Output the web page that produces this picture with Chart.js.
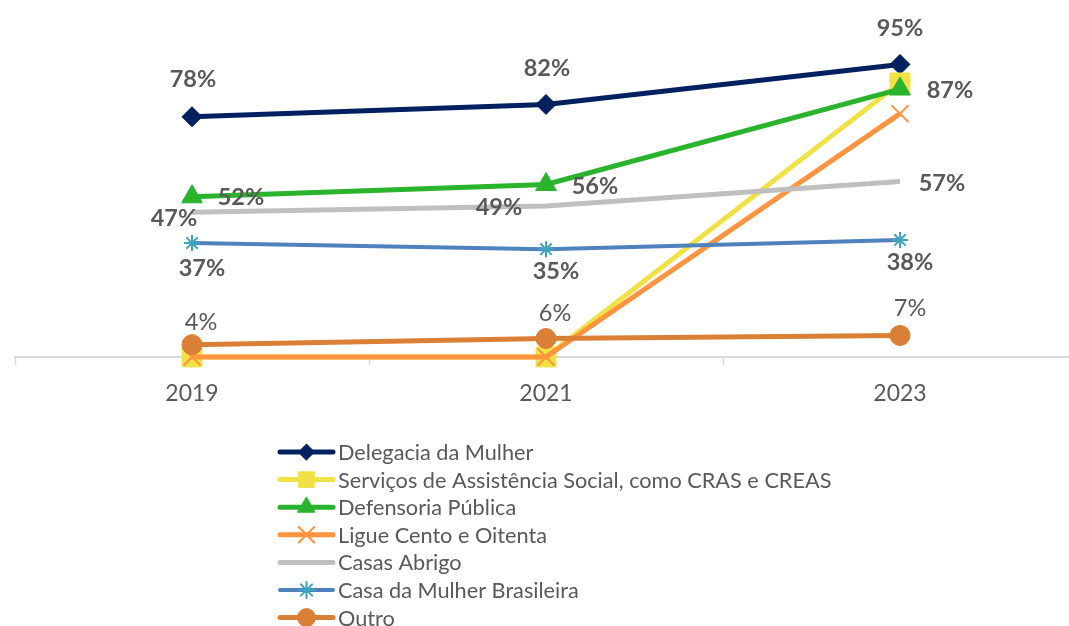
<!DOCTYPE html>
<html lang="pt-BR">
<head>
<meta charset="utf-8">
<title>Serviços conhecidos</title>
<script src="https://cdn.jsdelivr.net/npm/chart.js@4.4.1/dist/chart.umd.min.js"></script>
<style>
    html, body { margin: 0; padding: 0; background: #ffffff; overflow: hidden; }
    #grafico { display: block; }
</style>
</head>
<body>
<canvas id="grafico" width="1100" height="626"></canvas>
<script>
const listaAnos = ['2019', '2021', '2023'];
const listaSeries = [
    'Delegacia da Mulher',
    'Serviços de Assistência Social, como CRAS e CREAS',
    'Defensoria Pública',
    'Ligue Cento e Oitenta',
    'Casas Abrigo',
    'Casa da Mulher Brasileira',
    'Outro'
];
const valoresDelegacia = [78, 82, 95];
const valoresAssistencia = [0, 0, 89];
const valoresDefensoria = [52, 56, 87];
const valoresLigue = [0, 0, 79];
const valoresCasasAbrigo = [47, 49, 57];
const valoresCasaBrasileira = [37, 35, 38];
const valoresOutro = [4, 6, 7];

const corTexto = '#595959';
const fonteBase = 'Lato, "Open Sans", sans-serif';

// estilo de cada serie (linha, marcador, rotulos)
const estilos = [
    { cor: '#002060', marcador: 'rectRot', raio: 10, raioLegenda: 8, espessura: 5, rotulo: 'bold', desloc: [[1, -37], [1, -36], [0, -36]] },
    { cor: '#F0E244', marcador: 'rect', raio: 14, raioLegenda: 11, espessura: 5 },
    { cor: '#2AB32C', marcador: 'triangle', raio: 12, raioLegenda: 10, espessura: 5, rotulo: 'bold', desloc: [[49, 1], [49, 2], [50, 1]] },
    { cor: '#FF9440', marcador: 'crossRot', raio: 12, raioLegenda: 11, espessura: 5, borda: 2 },
    { cor: '#BFBFBF', marcador: false, raio: 0, raioLegenda: 0, espessura: 5, rotulo: 'bold', desloc: [[-18, 6], [-47, 1], [42, 2]] },
    { cor: '#4F81BD', corMarcador: '#3FA3BE', marcador: 'star', raio: 8, raioLegenda: 8, espessura: 4, borda: 2, rotulo: 'bold', desloc: [[10, 25], [10, 22], [10, 22]] },
    { cor: '#DA7F36', marcador: 'circle', raio: 10, raioLegenda: 9, espessura: 5, rotulo: 'normal', desloc: [[9, -22], [9, -25], [10, -27]] }
];

const listaValores = [
    valoresDelegacia, valoresAssistencia, valoresDefensoria, valoresLigue,
    valoresCasasAbrigo, valoresCasaBrasileira, valoresOutro
];

const conjuntos = listaValores.map((valores, indice) => {
    const estilo = estilos[indice];
    const corMarcador = estilo.corMarcador || estilo.cor;
    return {
        label: listaSeries[indice],
        data: valores,
        borderColor: estilo.cor,
        backgroundColor: corMarcador,
        borderWidth: estilo.espessura,
        tension: 0,
        clip: false,
        order: listaValores.length - indice,
        pointStyle: estilo.marcador,
        pointRadius: estilo.raio,
        pointHoverRadius: estilo.raio,
        pointBackgroundColor: corMarcador,
        pointBorderColor: corMarcador,
        pointBorderWidth: estilo.borda || 1
    };
});

const pluginRotulos = {
    id: 'rotulos',
    afterDatasetsDraw(chart) {
        const ctx = chart.ctx;
        ctx.save();
        ctx.fillStyle = corTexto;
        ctx.textAlign = 'center';
        ctx.textBaseline = 'middle';
        chart.data.datasets.forEach((conjunto, indice) => {
            const estilo = estilos[indice];
            if (!estilo.rotulo) {
                return;
            }
            ctx.font = (estilo.rotulo === 'bold' ? 'bold ' : '') + '23.5px ' + fonteBase;
            chart.getDatasetMeta(indice).data.forEach((ponto, i) => {
                const [dx, dy] = estilo.desloc[i];
                ctx.fillText(conjunto.data[i] + '%', ponto.x + dx, ponto.y + dy);
            });
        });
        ctx.restore();
    }
};

const pluginLegenda = {
    id: 'legendaVertical',
    afterDraw(chart) {
        const ctx = chart.ctx;
        const xInicio = 280;
        const xFim = 333;
        const yInicio = 452;
        const passo = 27.6;
        ctx.save();
        ctx.font = '21.7px ' + fonteBase;
        ctx.textBaseline = 'middle';
        ctx.textAlign = 'left';
        listaSeries.forEach((nome, indice) => {
            const estilo = estilos[indice];
            const y = yInicio + indice * passo;
            ctx.strokeStyle = estilo.cor;
            ctx.lineWidth = estilo.espessura;
            ctx.lineCap = 'round';
            ctx.beginPath();
            ctx.moveTo(xInicio, y);
            ctx.lineTo(xFim, y);
            ctx.stroke();
            if (estilo.marcador) {
                const corMarcador = estilo.corMarcador || estilo.cor;
                ctx.fillStyle = corMarcador;
                ctx.strokeStyle = corMarcador;
                ctx.lineWidth = estilo.borda || 1;
                Chart.helpers.drawPoint(ctx, {
                    pointStyle: estilo.marcador,
                    radius: estilo.raioLegenda,
                    rotation: 0,
                    borderWidth: estilo.borda || 1
                }, (xInicio + xFim) / 2, y);
            }
            ctx.fillStyle = corTexto;
            ctx.fillText(nome, xFim + 5, y + 1);
        });
        ctx.restore();
    }
};

new Chart(document.getElementById('grafico').getContext('2d'), {
    type: 'line',
    data: {
        labels: listaAnos,
        datasets: conjuntos
    },
    options: {
        responsive: false,
        animation: false,
        devicePixelRatio: 1,
        layout: {
            padding: { left: 7, right: 23, top: 49, bottom: 209 }
        },
        scales: {
            x: {
                offset: true,
                afterFit: (escala) => {
                    escala.height = 60;
                    escala.paddingLeft = 0;
                    escala.paddingRight = 0;
                },
                grid: {
                    offset: true,
                    drawOnChartArea: false,
                    drawTicks: true,
                    tickLength: 8,
                    tickColor: '#D9D9D9',
                    tickWidth: 1.5
                },
                border: { display: true, color: '#D9D9D9', width: 2 },
                ticks: {
                    color: corTexto,
                    font: { family: fonteBase, size: 23 },
                    padding: 15
                }
            },
            y: {
                display: false,
                min: 0,
                max: 100
            }
        },
        plugins: {
            legend: { display: false },
            tooltip: { enabled: false }
        }
    },
    plugins: [pluginRotulos, pluginLegenda]
});
</script>
</body>
</html>
